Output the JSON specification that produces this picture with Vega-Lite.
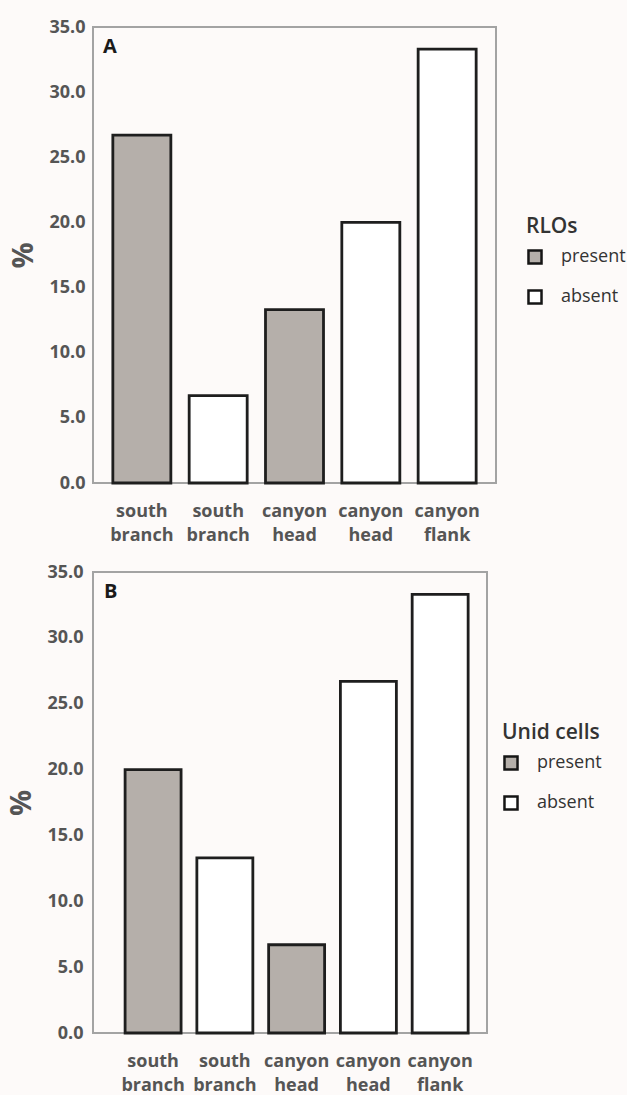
{
  "$schema": "https://vega.github.io/schema/vega-lite/v6.json",
  "background": "#FDFAF9",
  "padding": {"left": 6, "top": 17, "right": 0, "bottom": 0},
  "datasets": {
    "rlos": [
      {"key": "south branch|present", "status": "present", "pct": 26.7},
      {"key": "south branch|absent", "status": "absent", "pct": 6.7},
      {"key": "canyon head|present", "status": "present", "pct": 13.3},
      {"key": "canyon head|absent", "status": "absent", "pct": 20.0},
      {"key": "canyon flank|absent", "status": "absent", "pct": 33.3}
    ],
    "unid": [
      {"key": "south branch|present", "status": "present", "pct": 20.0},
      {"key": "south branch|absent", "status": "absent", "pct": 13.3},
      {"key": "canyon head|present", "status": "present", "pct": 6.7},
      {"key": "canyon head|absent", "status": "absent", "pct": 26.7},
      {"key": "canyon flank|absent", "status": "absent", "pct": 33.3}
    ]
  },
  "config": {
    "font": "Open Sans",
    "view": {"stroke": "#A3A3A3", "strokeWidth": 2},
    "axis": {
      "domain": false, "ticks": false, "grid": false,
      "labelFont": "Open Sans", "labelFontSize": 18, "labelFontWeight": "bold", "labelColor": "#555555",
      "titleFont": "Open Sans", "titleFontSize": 29, "titleFontWeight": "bold", "titleColor": "#555555"
    },
    "legend": {
      "symbolType": "square", "symbolSize": 170, "symbolStrokeColor": "#151515", "symbolStrokeWidth": 2.5,
      "labelFont": "Open Sans", "labelFontSize": 18, "labelFontWeight": 500, "labelColor": "#333333", "labelOffset": 17,
      "titleFont": "Open Sans", "titleFontSize": 21, "titleFontWeight": 600, "titleColor": "#333333",
      "rowPadding": 16, "titlePadding": 11
    },
    "concat": {"spacing": 17}
  },
  "vconcat": [
    {
      "data": {"name": "rlos"},
      "width": 403, "height": 456,
      "title": {"text": "A", "anchor": "start", "frame": "group", "offset": -39, "dx": 10, "fontSize": 20, "fontWeight": "bold", "color": "#1a1a1a", "font": "Open Sans"},
      "mark": {"type": "bar", "stroke": "#1E1E1E", "strokeWidth": 2.8},
      "encoding": {
        "x": {"field": "key", "type": "nominal", "sort": null,
          "scale": {"paddingInner": 0.24, "paddingOuter": 0.26},
          "axis": {"title": null, "labelAngle": 0, "labelExpr": "split(split(datum.label, '|')[0], ' ')", "labelLineHeight": 24, "labelPadding": 19}},
        "y": {"field": "pct", "type": "quantitative", "scale": {"domain": [0, 35], "nice": false},
          "axis": {"title": "%", "values": [0, 5, 10, 15, 20, 25, 30, 35], "format": ".1f", "labelPadding": 8, "titlePadding": 10}},
        "fill": {"field": "status", "type": "nominal",
          "scale": {"domain": ["present", "absent"], "range": ["#B5AFAA", "#FFFFFF"]},
          "legend": {"title": "RLOs", "orient": "none", "legendX": 433, "legendY": 189}}
      }
    },
    {
      "data": {"name": "unid"},
      "width": 394, "height": 461,
      "title": {"text": "B", "anchor": "start", "frame": "group", "offset": -39, "dx": 11, "fontSize": 20, "fontWeight": "bold", "color": "#1a1a1a", "font": "Open Sans"},
      "mark": {"type": "bar", "stroke": "#1E1E1E", "strokeWidth": 2.8},
      "encoding": {
        "x": {"field": "key", "type": "nominal", "sort": null,
          "scale": {"paddingInner": 0.22, "paddingOuter": 0.355, "align": 0.63},
          "axis": {"title": null, "labelAngle": 0, "labelExpr": "split(split(datum.label, '|')[0], ' ')", "labelLineHeight": 24, "labelPadding": 19}},
        "y": {"field": "pct", "type": "quantitative", "scale": {"domain": [0, 35], "nice": false},
          "axis": {"title": "%", "values": [0, 5, 10, 15, 20, 25, 30, 35], "format": ".1f", "labelPadding": 10, "titlePadding": 10}},
        "fill": {"field": "status", "type": "nominal",
          "scale": {"domain": ["present", "absent"], "range": ["#B5AFAA", "#FFFFFF"]},
          "legend": {"title": "Unid cells", "orient": "none", "legendX": 409, "legendY": 150}}
      }
    }
  ],
  "resolve": {"scale": {"fill": "independent"}, "legend": {"fill": "independent"}}
}
